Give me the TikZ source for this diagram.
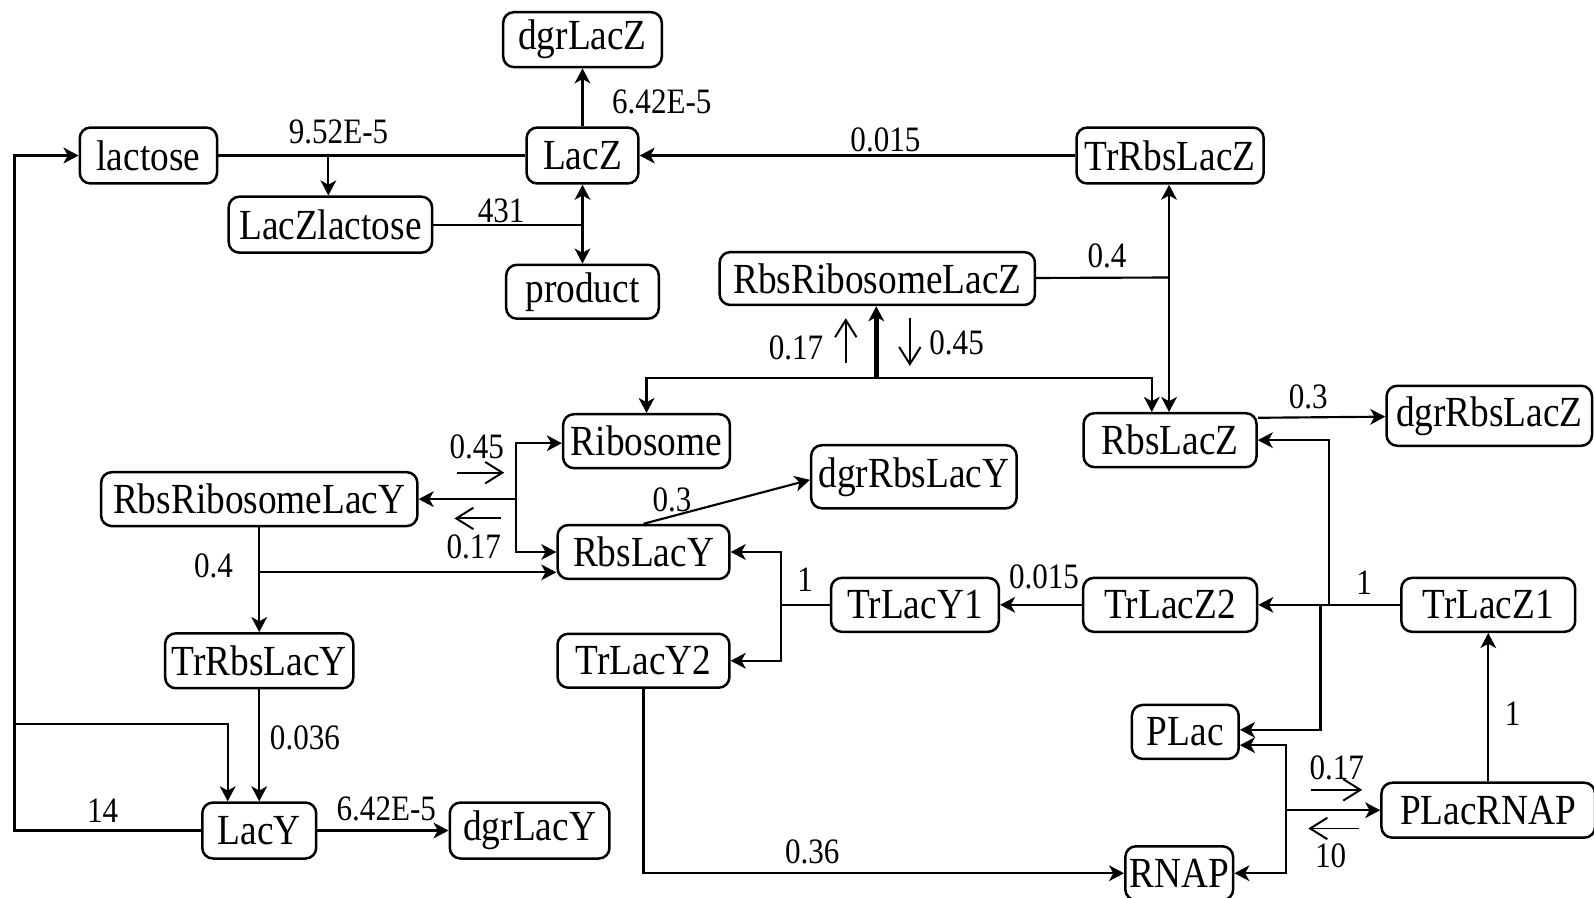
\documentclass[tikz,border=0pt]{standalone}
\usepackage{fontspec}
\setmainfont{Liberation Serif}[FakeStretch=0.87]
\usetikzlibrary{arrows.meta, positioning}

\begin{document}
\begin{tikzpicture}[
    x=0.01cm, y=-0.01cm,
    every node/.style={font=\fontsize{12}{14}\selectfont, align=center},
    species/.style={rectangle, draw=black, line width=0.7pt, rounded corners=3pt, minimum height=0.54cm, inner xsep=1pt, inner ysep=1pt},
    rate/.style={inner sep=0pt, font=\fontsize{10}{12}\selectfont},
    line/.style={line width=0.6pt},
    arr/.style={-{Stealth[length=4.2pt, width=4.4pt, inset=1.2pt]}, line width=0.6pt},
    dir/.style={-{Straight Barb[length=4.8pt, width=6pt]}, line width=0.55pt}
]
\useasboundingbox (0,0) rectangle (1568,883);

% NODES
\node[species, minimum width=1.56cm] (dgrLacZ) at (573,39) {dgrLacZ};
\node[species, minimum width=1.35cm, minimum height=0.55cm] (lactose) at (146,153) {lactose};
\node[species, minimum width=1.10cm, minimum height=0.55cm] (LacZ) at (573,153) {LacZ};
\node[species, minimum width=1.84cm, minimum height=0.55cm] (TrRbsLacZ) at (1151,153) {TrRbsLacZ};
\node[species, minimum width=2.00cm, minimum height=0.55cm] (LacZlactose) at (325,221) {LacZlactose};
\node[species, minimum width=1.50cm, minimum height=0.53cm] (product) at (573,287) {product};
\node[species, minimum width=3.10cm, minimum height=0.52cm] (RbsRibosomeLacZ) at (863,274) {RbsRibosomeLacZ};
\node[species, minimum width=1.64cm, minimum height=0.53cm] (Ribosome) at (636,434) {Ribosome};
\node[species, minimum width=1.70cm, minimum height=0.53cm] (RbsLacZ) at (1151,433) {RbsLacZ};
\node[species, minimum width=2.02cm, minimum height=0.59cm] (dgrRbsLacZ) at (1465,409) {dgrRbsLacZ};
\node[species, minimum width=2.02cm, minimum height=0.62cm] (dgrRbsLacY) at (899,469) {dgrRbsLacY};
\node[species, minimum width=3.11cm, minimum height=0.53cm] (RbsRibosomeLacY) at (255,491) {RbsRibosomeLacY};
\node[species, minimum width=1.69cm, minimum height=0.53cm] (RbsLacY) at (633,543) {RbsLacY};
\node[species, minimum width=1.65cm, minimum height=0.53cm] (TrLacY1) at (900,595) {TrLacY1};
\node[species, minimum width=1.71cm, minimum height=0.53cm] (TrLacZ2) at (1151,595) {TrLacZ2};
\node[species, minimum width=1.71cm, minimum height=0.53cm] (TrLacZ1) at (1464,595) {TrLacZ1};
\node[species, minimum width=1.85cm] (TrRbsLacY) at (255,650) {TrRbsLacY};
\node[species, minimum width=1.69cm, minimum height=0.53cm] (TrLacY2) at (633,650) {TrLacY2};
\node[species, minimum width=1.05cm, minimum height=0.53cm] (PLac) at (1166,720) {PLac};
\node[species, minimum width=2.10cm] (PLacRNAP) at (1464,797) {PLacRNAP};
\node[species, minimum width=1.12cm, minimum height=0.55cm] (LacY) at (255,817) {LacY};
\node[species, minimum width=1.57cm, minimum height=0.55cm] (dgrLacY) at (521,817) {dgrLacY};
\node[species, minimum width=1.06cm, minimum height=0.53cm] (RNAP) at (1160,859) {RNAP};

% JUNCTIONS
\coordinate (jLZ) at (323,153);
\coordinate (jP) at (573,221);
\coordinate (jL) at (14,712);
\coordinate (jZ4) at (1150,273);
\coordinate (jZb) at (862,372);
\coordinate (jY) at (508,491);
\coordinate (jY4) at (255,563);
\coordinate (jY1) at (768,595);
\coordinate (jZ1) at (1307,595);
\coordinate (jZ1b) at (1299,595);
\coordinate (jR) at (1265,797);

% RATES
\node[rate] (r1) at (333,130) {9.52E-5};
\node[rate] (r2) at (651,100) {6.42E-5};
\node[rate] (r3) at (871,138) {0.015};
\node[rate] (r4) at (493,207) {431};
\node[rate] (r5) at (1089,252) {0.4};
\node[rate] (r6) at (783,342) {0.17};
\node[rate] (r7) at (941,337) {0.45};
\node[rate] (r8) at (1287,390) {0.3};
\node[rate] (r9) at (469,440) {0.45};
\node[rate] (r10) at (466,538) {0.17};
\node[rate] (r11) at (661,492) {0.3};
\node[rate] (r12) at (210,557) {0.4};
\node[rate] (r13) at (792,570) {1};
\node[rate] (r14) at (1027,567) {0.015};
\node[rate] (r15) at (1342,573) {1};
\node[rate] (r16) at (300,726) {0.036};
\node[rate] (r17) at (1488,702) {1};
\node[rate] (r18) at (1315,755) {0.17};
\node[rate] (r19) at (1309,842) {10};
\node[rate] (r20) at (101,797) {14};
\node[rate] (r21) at (380,796) {6.42E-5};
\node[rate] (r22) at (799,838) {0.36};

% ARROWS
\draw[line] (lactose) -- (LacZ);
\draw[arr] (jLZ) -- (jLZ |- LacZlactose.north);
\draw[arr] (LacZ) -- (dgrLacZ);
\draw[arr] (TrRbsLacZ) -- (LacZ);
\draw[line] (LacZlactose) -- (jP);
\draw[arr] (jP) -- (LacZ);
\draw[arr] (jP) -- (product);

\draw[arr, line width=0.9pt] (LacY) -- (LacY -| jL) |- (lactose);
\draw[arr] (jL) -| ([xshift=-0.31cm]LacY.north);

\draw[line] (RbsRibosomeLacZ) -- (jZ4);
\draw[arr] (jZ4) -- (jZ4 |- TrRbsLacZ.south);
\draw[arr] (jZ4) -- (jZ4 |- RbsLacZ.north);
\draw[arr, line width=1.3pt] (jZb) -- (jZb |- RbsRibosomeLacZ.south);
\draw[arr] (jZb) -| (Ribosome);
\draw[arr] (jZb) -| ([xshift=-0.18cm]RbsLacZ.north);
\draw[arr] ([yshift=0.22cm]RbsLacZ.east) -- (dgrRbsLacZ);

\draw[arr] (jY) -- (RbsRibosomeLacY);
\draw[arr] (jY) |- ([yshift=-0.02cm]Ribosome.west);
\draw[arr] (jY) |- (RbsLacY);
\draw[arr] (RbsRibosomeLacY) -- (TrRbsLacY);
\draw[arr] (jY4) -- (jY4 -| RbsLacY.west);
\draw[arr] (TrRbsLacY) -- (LacY);
\draw[arr] (LacY) -- (dgrLacY);
\draw[arr] (RbsLacY.north) -- ([yshift=-0.03cm]dgrRbsLacY.west);

\draw[line] (TrLacY1) -- (jY1);
\draw[arr] (jY1) |- (RbsLacY);
\draw[arr] (jY1) |- (TrLacY2);
\draw[arr] (TrLacZ2) -- (TrLacY1);
\draw[arr] (TrLacZ1) -- (TrLacZ2);
\draw[arr] (jZ1) |- (RbsLacZ);
\draw[arr] (jZ1b) |- ([yshift=0.02cm]PLac.east);
\draw[arr] (PLacRNAP) -- (TrLacZ1);
\draw[arr] (jR) -- (PLacRNAP);
\draw[arr] (jR) |- ([yshift=-0.13cm]PLac.east);
\draw[arr] (jR) |- (RNAP);
\draw[arr] (TrLacY2) |- (RNAP);

% DIRECTIONS
\draw[dir] (832,357) -- (832,313);
\draw[dir] (895,313) -- (895,360);
\draw[dir] (450,465) -- (496,465);
\draw[dir] (493,510) -- (447,510);
\draw[dir] (1290,777) -- (1340,777);
\draw[dir] (1337,815) -- (1287,815);

\end{tikzpicture}
\end{document}
